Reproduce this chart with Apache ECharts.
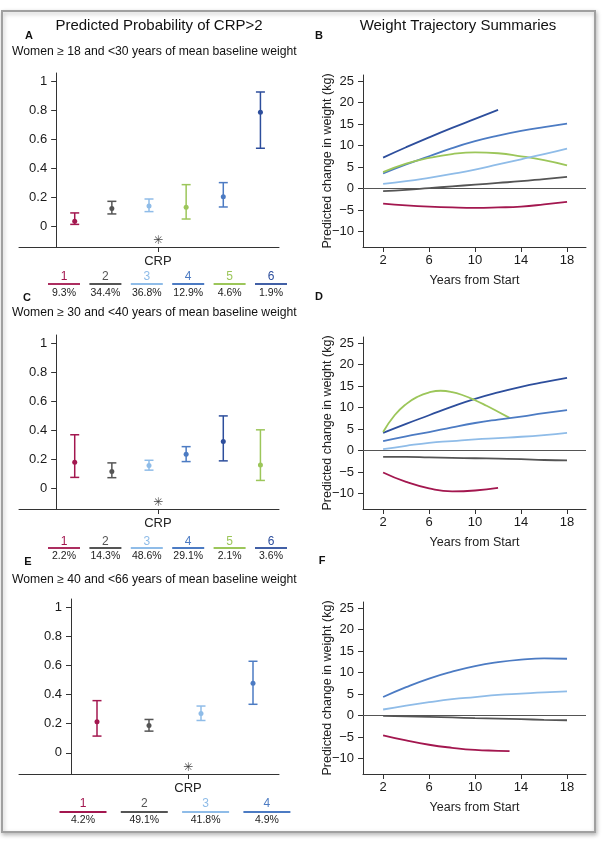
<!DOCTYPE html>
<html><head><meta charset="utf-8">
<script src="https://cdn.jsdelivr.net/npm/echarts@6/dist/echarts.min.js"></script>
<style>html,body{margin:0;padding:0;background:#fff}#c{width:603px;height:846px}</style>
</head><body><div id="c"></div>
<script>
// ---------- colours of the trajectory groups ----------
const groupColors = {1:'#A3174F', 2:'#555555', 3:'#8FBCE8', 4:'#4C7BC3', 5:'#9CC65A', 6:'#2D4E9C'};

// ---------- tick labels ----------
const probTicks = [0, 0.2, 0.4, 0.6, 0.8, 1];
const kgTicks = [-10, -5, 0, 5, 10, 15, 20, 25];
const yearTicks = [2, 6, 10, 14, 18];

// ---------- Panel A : women 18-30 ----------
const aGroups = [1, 2, 3, 5, 4, 6];
const aEst = [0.032, 0.120, 0.138, 0.129, 0.202, 0.784];
const aLow = [0.011, 0.083, 0.099, 0.048, 0.131, 0.536];
const aHigh = [0.090, 0.170, 0.186, 0.285, 0.299, 0.924];
const aLegendGroups = [1, 2, 3, 4, 5, 6];
const aLegendPct = ['9.3%', '34.4%', '36.8%', '12.9%', '4.6%', '1.9%'];

// ---------- Panel C : women 30-40 ----------
const cGroups = [1, 2, 3, 4, 6, 5];
const cEst = [0.178, 0.114, 0.155, 0.232, 0.321, 0.159];
const cLow = [0.073, 0.071, 0.123, 0.182, 0.187, 0.052];
const cHigh = [0.367, 0.173, 0.191, 0.285, 0.497, 0.401];
const cLegendGroups = [1, 2, 3, 4, 5, 6];
const cLegendPct = ['2.2%', '14.3%', '48.6%', '29.1%', '2.1%', '3.6%'];

// ---------- Panel E : women 40-66 ----------
const eGroups = [1, 2, 3, 4];
const eEst = [0.213, 0.188, 0.270, 0.477];
const eLow = [0.115, 0.149, 0.222, 0.333];
const eHigh = [0.358, 0.229, 0.321, 0.628];
const eLegendGroups = [1, 2, 3, 4];
const eLegendPct = ['4.2%', '49.1%', '41.8%', '4.9%'];

// ---------- Trajectories ----------
const yrsFull = [2, 4, 6, 8, 10, 12, 14, 16, 18];
const yrsTo12 = [2, 4, 6, 8, 10, 12];
const yrsTo13 = [2, 4, 6, 8, 10, 12, 13];
const yrsGreenD = [2, 3, 4, 5, 6, 7, 8, 9, 10, 11, 12, 13];

// Panel B
const b6 = [7.2, 9.6, 11.9, 14.1, 16.2, 18.3];
const b4 = [3.5, 5.6, 7.5, 9.4, 11.0, 12.3, 13.4, 14.3, 15.1];
const b5 = [3.8, 5.8, 7.1, 8.0, 8.4, 8.2, 7.5, 6.6, 5.4];
const b3 = [1.1, 1.7, 2.5, 3.4, 4.4, 5.6, 6.8, 8.0, 9.3];
const b2 = [-0.6, -0.3, 0.1, 0.5, 0.9, 1.3, 1.7, 2.2, 2.7];
const b1 = [-3.5, -3.9, -4.2, -4.4, -4.5, -4.4, -4.2, -3.7, -3.1];

// Panel D
const d6 = [4.1, 6.2, 8.2, 10.2, 12.0, 13.5, 14.8, 15.9, 16.9];
const d5 = [4.3, 8.2, 10.8, 12.5, 13.5, 13.9, 13.6, 12.8, 11.7, 10.4, 9.0, 7.6];
const d4 = [2.2, 3.3, 4.3, 5.4, 6.4, 7.2, 7.9, 8.7, 9.4];
const d3 = [0.3, 1.1, 1.8, 2.2, 2.6, 2.9, 3.2, 3.6, 4.1];
const d2 = [-1.5, -1.5, -1.6, -1.7, -1.8, -1.9, -2.0, -2.2, -2.3];
const d1 = [-5.1, -7.3, -8.8, -9.5, -9.3, -8.7];

// Panel F
const f4 = [4.3, 6.6, 8.6, 10.2, 11.5, 12.4, 13.0, 13.3, 13.2];
const f3 = [1.4, 2.3, 3.1, 3.8, 4.3, 4.8, 5.1, 5.4, 5.6];
const f2 = [-0.1, -0.2, -0.3, -0.45, -0.6, -0.7, -0.85, -1.0, -1.1];
const f1 = [-4.6, -5.8, -6.8, -7.5, -8.0, -8.2, -8.3];

// ---------- build ----------
const FONT = '"Liberation Sans", Arial, Helvetica, sans-serif';
const AXC = '#333';
const grids = [], xAxes = [], yAxes = [], series = [], graphics = [];

function fmtKg(v) { return v < 0 ? '\u2212' + (-v) : String(v); }

function addLeft(gi, grid, xmax, crpX, groups, est, low, high) {
  grids.push(Object.assign({outerBoundsMode: 'none', containLabel: false}, grid));
  // y axis sits where x = 0 (the x axis starts at -1)
  const yOffset = -grid.width / (xmax + 1);
  xAxes.push({gridIndex: gi, type: 'value', min: -1, max: xmax,
    axisLine: {onZero: false, lineStyle: {color: AXC, width: 1}},
    splitLine: {show: false},
    axisTick: {customValues: [crpX], length: 5, lineStyle: {color: AXC}},
    axisLabel: {customValues: [crpX], formatter: () => 'CRP', margin: 8, fontSize: 13, color: '#222', fontFamily: FONT}});
  yAxes.push({gridIndex: gi, type: 'value', min: -0.145, max: 1.055, offset: yOffset,
    axisLine: {onZero: false, lineStyle: {color: AXC, width: 1}},
    splitLine: {show: false},
    axisTick: {customValues: probTicks, length: 5, lineStyle: {color: AXC}},
    axisLabel: {customValues: probTicks, formatter: v => String(Math.round(v * 10) / 10), margin: 9, fontSize: 13, color: '#1a1a1a', fontFamily: FONT}});
  series.push({type: 'custom', xAxisIndex: gi, yAxisIndex: gi, silent: true, z: 3,
    data: est.map((e, i) => [i + 0.5, low[i], high[i], groups[i]]),
    encode: {x: 0, y: [1, 2]},
    renderItem: (params, api) => {
      const x = api.value(0);
      const t = api.coord([x, api.value(2)]);
      const b = api.coord([x, api.value(1)]);
      const col = groupColors[api.value(3)];
      const w = 4.5, st = {stroke: col, lineWidth: 1.5};
      return {type: 'group', children: [
        {type: 'line', shape: {x1: t[0], y1: t[1], x2: b[0], y2: b[1]}, style: st},
        {type: 'line', shape: {x1: t[0] - w, y1: t[1], x2: t[0] + w, y2: t[1]}, style: st},
        {type: 'line', shape: {x1: b[0] - w, y1: b[1], x2: b[0] + w, y2: b[1]}, style: st}
      ]};
    }});
  series.push({type: 'scatter', xAxisIndex: gi, yAxisIndex: gi, silent: true, z: 4, symbolSize: 5,
    data: est.map((e, i) => ({value: [i + 0.5, e], itemStyle: {color: groupColors[groups[i]], opacity: 1}}))});
  series.push({type: 'scatter', xAxisIndex: gi, yAxisIndex: gi, silent: true, z: 4, symbolSize: 1,
    itemStyle: {color: 'rgba(0,0,0,0)'},
    data: [[crpX, -0.1]],
    label: {show: true, position: 'inside', formatter: '\u2733', fontSize: 12, fontWeight: 'bold', color: '#111', fontFamily: 'DejaVu Sans'}});
}

function addRight(gi, grid, lines) {
  grids.push(Object.assign({outerBoundsMode: 'none', containLabel: false}, grid));
  xAxes.push({gridIndex: gi, type: 'value', min: 0.25, max: 19.65,
    axisLine: {onZero: false, lineStyle: {color: AXC, width: 1}},
    splitLine: {show: false},
    axisTick: {customValues: yearTicks, length: 5, lineStyle: {color: AXC}},
    axisLabel: {customValues: yearTicks, margin: 7, fontSize: 13, color: '#1a1a1a', fontFamily: FONT},
    name: 'Years from Start', nameLocation: 'middle', nameGap: 27, nameMoveOverlap: false,
    nameTextStyle: {fontSize: 12.5, color: '#222', fontFamily: FONT}});
  yAxes.push({gridIndex: gi, type: 'value', min: -13.6, max: 26.4,
    axisLine: {onZero: false, lineStyle: {color: AXC, width: 1}},
    splitLine: {show: false},
    axisTick: {customValues: kgTicks, length: 5, lineStyle: {color: AXC}},
    axisLabel: {customValues: kgTicks, formatter: fmtKg, margin: 9, fontSize: 13, color: '#1a1a1a', fontFamily: FONT},
    name: 'Predicted change in weight (kg)', nameLocation: 'middle', nameRotate: 90, nameGap: 29, nameMoveOverlap: false,
    nameTextStyle: {fontSize: 12.5, color: '#222', fontFamily: FONT}});
  lines.forEach((ln, k) => {
    const s = {type: 'line', xAxisIndex: gi, yAxisIndex: gi, silent: true, smooth: 0.5,
      showSymbol: false, symbol: 'none', z: 3,
      lineStyle: {color: groupColors[ln.g], width: 1.8},
      data: ln.x.map((x, i) => [x, ln.y[i]])};
    if (k === 0) {
      s.markLine = {silent: true, symbol: ['none', 'none'], label: {show: false},
        lineStyle: {color: '#555', width: 1.2, type: 'solid'}, data: [{yAxis: 0}], z: 2};
    }
    series.push(s);
  });
}

function addLegend(groups, pcts, cx0, step, lineW, yNum, yLine, yPct) {
  groups.forEach((g, i) => {
    const cx = cx0 + step * i;
    graphics.push({type: 'text', x: cx, y: yNum, z: 10,
      style: {text: String(g), fill: groupColors[g], font: '12px ' + FONT, align: 'center', verticalAlign: 'middle', textAlign: 'center', textVerticalAlign: 'middle'}});
    graphics.push({type: 'line', z: 10, shape: {x1: cx - lineW / 2, y1: yLine, x2: cx + lineW / 2, y2: yLine},
      style: {stroke: groupColors[g], lineWidth: 1.8}});
    graphics.push({type: 'text', x: cx, y: yPct, z: 10,
      style: {text: pcts[i], fill: '#222', font: '10.5px ' + FONT, align: 'center', verticalAlign: 'middle', textAlign: 'center', textVerticalAlign: 'middle'}});
  });
}

function addText(txt, x, y, size, opts) {
  opts = opts || {};
  graphics.push({type: 'text', x: x, y: y, z: 10,
    style: {text: txt, fill: opts.fill || '#111', font: (opts.weight || 'normal') + ' ' + size + 'px ' + FONT,
      align: opts.align || 'left', verticalAlign: 'middle', textAlign: opts.align || 'left', textVerticalAlign: 'middle'}});
}

// frame
graphics.push({type: 'rect', z: -100, shape: {x: 2, y: 11, width: 593, height: 821},
  style: {fill: '#fff', stroke: '#a0a0a0', lineWidth: 2, shadowBlur: 4, shadowColor: 'rgba(0,0,0,0.25)', shadowOffsetX: 1, shadowOffsetY: 2}});

// titles
addText('Predicted Probability of CRP>2', 159, 26, 15, {align: 'center'});
addText('Weight Trajectory Summaries', 458, 26, 15, {align: 'center'});
addText('A', 29, 36, 11, {weight: 'bold', align: 'center'});
addText('B', 319, 36, 11, {weight: 'bold', align: 'center'});
addText('C', 27, 298, 11, {weight: 'bold', align: 'center'});
addText('D', 319, 297, 11, {weight: 'bold', align: 'center'});
addText('E', 28, 562, 11, {weight: 'bold', align: 'center'});
addText('F', 322, 561, 11, {weight: 'bold', align: 'center'});
addText('Women \u2265 18 and <30 years of mean baseline weight', 12, 52, 12.2);
addText('Women \u2265 30 and <40 years of mean baseline weight', 12, 313, 12.2);
addText('Women \u2265 40 and <66 years of mean baseline weight', 12, 580, 12.2);

// panels
addLeft(0, {left: 19, top: 73, width: 260, height: 174}, 6, 2.74, aGroups, aEst, aLow, aHigh);
addRight(1, {left: 363, top: 75, width: 223, height: 172}, [
  {g: 6, x: yrsTo12, y: b6}, {g: 4, x: yrsFull, y: b4}, {g: 5, x: yrsFull, y: b5},
  {g: 3, x: yrsFull, y: b3}, {g: 2, x: yrsFull, y: b2}, {g: 1, x: yrsFull, y: b1}]);
addLeft(2, {left: 19, top: 335, width: 260, height: 174}, 6, 2.74, cGroups, cEst, cLow, cHigh);
addRight(3, {left: 363, top: 337, width: 223, height: 172}, [
  {g: 6, x: yrsFull, y: d6}, {g: 5, x: yrsGreenD, y: d5}, {g: 4, x: yrsFull, y: d4},
  {g: 3, x: yrsFull, y: d3}, {g: 2, x: yrsFull, y: d2}, {g: 1, x: yrsTo12, y: d1}]);
addLeft(4, {left: 19, top: 599, width: 260, height: 175}, 4, 2.25, eGroups, eEst, eLow, eHigh);
addRight(5, {left: 363, top: 602, width: 223, height: 172}, [
  {g: 4, x: yrsFull, y: f4}, {g: 3, x: yrsFull, y: f3}, {g: 2, x: yrsFull, y: f2},
  {g: 1, x: yrsTo13, y: f1}]);

// legends
addLegend(aLegendGroups, aLegendPct, 64, 41.4, 32, 277, 284, 293);
addLegend(cLegendGroups, cLegendPct, 64, 41.4, 32, 542, 548, 556);
addLegend(eLegendGroups, eLegendPct, 83, 61.3, 47, 804, 812, 820);

const chart = echarts.init(document.getElementById('c'), null, {renderer: 'canvas'});
chart.setOption({
  animation: false,
  backgroundColor: '#ffffff',
  textStyle: {fontFamily: FONT},
  grid: grids, xAxis: xAxes, yAxis: yAxes, series: series, graphic: graphics
});
</script>
</body></html>
